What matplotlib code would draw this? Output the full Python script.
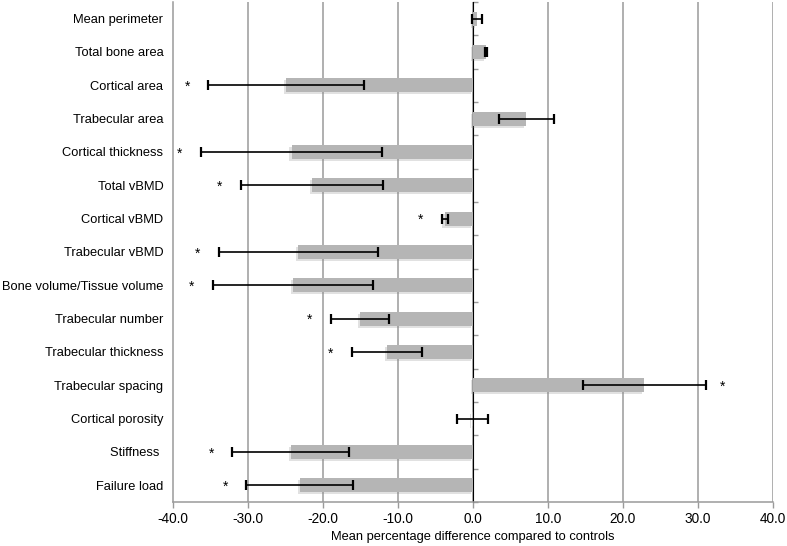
import matplotlib
matplotlib.use("Agg")
import matplotlib.pyplot as plt
import matplotlib.patheffects as pe
import numpy as np

plt.rcParams['font.family'] = ['Liberation Sans', 'DejaVu Sans']

categories = ["Mean perimeter", "Total bone area", "Cortical area", "Trabecular area",
              "Cortical thickness", "Total vBMD", "Cortical vBMD", "Trabecular vBMD",
              "Bone volume/Tissue volume", "Trabecular number", "Trabecular thickness",
              "Trabecular spacing", "Cortical porosity", "Stiffness ", "Failure load"]
values = [0.5, 1.7, -24.9, 7.1, -24.2, -21.5, -3.8, -23.3, -24.0, -15.1, -11.5, 22.8, -0.1, -24.3, -23.1]
errors = [0.7, 0.15, 10.4, 3.7, 12.1, 9.5, 0.4, 10.6, 10.7, 3.9, 4.7, 8.2, 2.1, 7.8, 7.1]
significant = [False, False, True, False, True, True, True, True, True, True, True, True, False, True, True]
xticks = [-40, -30, -20, -10, 0, 10, 20, 30, 40]
xlabel = "Mean percentage difference compared to controls"

fig = plt.figure(figsize=(7.87, 5.46), dpi=100)
ax = fig.add_axes([173/787, 1-502/546, 600/787, 500/546])

y = np.arange(len(categories))
ax.set_xlim(-40, 40)
ax.set_ylim(len(categories)-0.5, -0.5)

for xv in xticks[1:]:
    ax.axvline(xv, color='#9a9a9a', lw=1.1, zorder=0)

bars = ax.barh(y, values, height=0.42, color='#b5b5b5', zorder=2)
for b in bars:
    b.set_path_effects([pe.SimplePatchShadow(offset=(-1.5, -1.5), shadow_rgbFace='#888888', alpha=0.25),
                        pe.Normal()])

ax.errorbar(values, y, xerr=errors, fmt='none', ecolor='black', elinewidth=1.2,
            capsize=3.5, capthick=1.6, zorder=3)

for yi, v, e, s in zip(y, values, errors, significant):
    if s:
        if v < 0:
            ax.annotate('*', xy=(v - e, yi), xytext=(-15, -1), textcoords='offset points',
                        ha='center', va='center', fontsize=10, zorder=4)
        else:
            ax.annotate('*', xy=(v + e, yi), xytext=(12, -1), textcoords='offset points',
                        ha='center', va='center', fontsize=10, zorder=4)

ax.set_yticks(y)
ax.set_yticklabels(categories, fontsize=9.3)
ax.tick_params(axis='y', length=0, pad=7)

ax.set_xticks(xticks)
ax.set_xticklabels([f"{t:.1f}" for t in xticks], fontsize=9.8)
ax.tick_params(axis='x', direction='out', length=4, color='#9a9a9a', width=1, pad=3)
ax.set_xlabel(xlabel, fontsize=9.3, labelpad=4)

for s in ['top', 'right']:
    ax.spines[s].set_visible(False)
for s in ['left', 'bottom']:
    ax.spines[s].set_color('#9a9a9a')
    ax.spines[s].set_linewidth(1.1)

sec = ax.secondary_yaxis(0.5)
sec.set_yticks(np.arange(len(categories)+1) - 0.5)
sec.set_yticklabels([])
sec.tick_params(axis='y', direction='out', length=3.5, color='#9a9a9a', width=1)
sec.spines['left'].set_color('#9a9a9a')
sec.spines['left'].set_linewidth(1.1)

fig.savefig("out.png", dpi=100)
